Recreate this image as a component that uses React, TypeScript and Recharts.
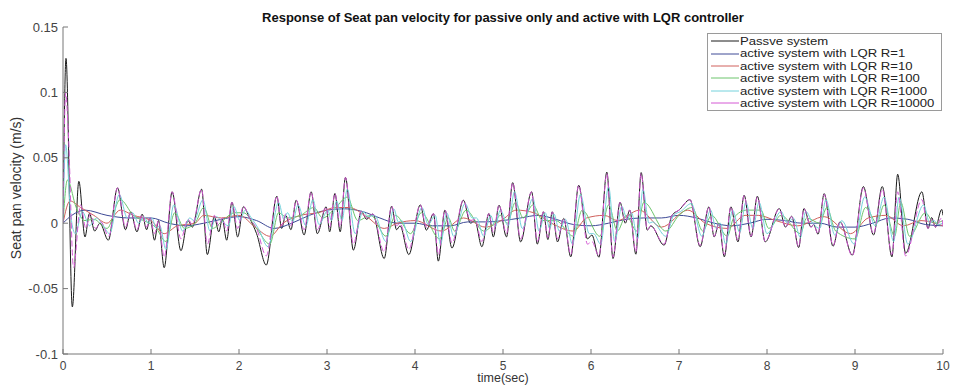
import React from 'react';
import { LineChart, Line, XAxis, YAxis } from 'recharts';

// [time (s), seat pan velocity (m/s)]
const passive: number[][] = [
  [0, 0], [0.034, 0.126], [0.106, -0.064], [0.18, 0.032], [0.25, -0.0105], [0.3, 0.0074], [0.36, -0.006], [0.42, 0],
  [0.515, -0.013], [0.62, 0.027], [0.71, -0.005], [0.77, 0.0087], [0.84, -0.0066], [0.9, 0.0069], [0.95, -0.005],
  [0.99, 0.004], [1.04, -0.013], [1.085, 0.002], [1.15, -0.034], [1.24, 0.024], [1.34, -0.021], [1.42, 0.002],
  [1.47, -0.003], [1.575, 0.026], [1.64, -0.024], [1.72, 0.005], [1.77, -0.0066], [1.81, 0.003], [1.86, -0.013],
  [1.92, 0.016], [1.985, -0.0105], [2.05, 0.0125], [2.12, 0.004], [2.2, -0.008], [2.31, -0.032], [2.43, 0.0206],
  [2.485, -0.004], [2.53, 0.006], [2.59, -0.005], [2.65, 0.0176], [2.74, -0.009], [2.82, 0.024], [2.89, -0.008],
  [2.99, 0.0125], [3.03, -0.0066], [3.09, 0.0227], [3.15, -0.0066], [3.21, 0.035], [3.3, -0.0206], [3.39, 0.009],
  [3.45, 0.003], [3.52, 0.007], [3.65, -0.027], [3.735, 0.013], [3.79, -0.005], [3.83, -0.002], [3.93, -0.024],
  [4.06, 0.014], [4.13, -0.0053], [4.21, 0.0074], [4.265, -0.029], [4.34, 0.01], [4.42, -0.019], [4.55, 0.0176],
  [4.63, 0], [4.68, 0.002], [4.76, -0.018], [4.84, 0.0074], [4.89, -0.0105], [4.955, 0.0137], [5.04, -0.0105],
  [5.11, 0.031], [5.2, -0.0143], [5.325, 0.024], [5.39, -0.016], [5.46, 0.0087], [5.51, -0.0125], [5.56, 0.0087],
  [5.62, -0.0143], [5.69, 0.0036], [5.77, -0.0257], [5.86, 0.029], [5.96, -0.012], [6.01, -0.009], [6.09, -0.026],
  [6.18, 0.039], [6.25, -0.027], [6.33, 0.016], [6.39, 0], [6.44, 0.01], [6.51, -0.0237], [6.57, 0.0387],
  [6.64, -0.0053], [6.68, -0.002], [6.83, -0.0168], [6.92, 0.006], [7.0, 0.01], [7.125, 0.018], [7.24, -0.018],
  [7.34, 0.0125], [7.4, -0.0105], [7.455, 0], [7.515, -0.0257], [7.59, 0.0125], [7.67, -0.0143], [7.74, 0.0214],
  [7.82, -0.0105], [7.89, 0.0206], [7.98, -0.0143], [8.14, 0.0112], [8.21, -0.003], [8.28, 0.0053], [8.36, -0.0186],
  [8.42, 0.0112], [8.5, -0.003], [8.53, -0.001], [8.58, -0.0084], [8.65, 0.0226], [8.75, -0.0176], [8.83, 0.001],
  [8.97, -0.0244], [9.095, 0.028], [9.21, -0.009], [9.31, 0.028], [9.42, -0.0257], [9.485, 0.0374], [9.575, -0.023],
  [9.76, 0.024], [9.83, -0.004], [9.87, 0.0043], [9.915, -0.003], [9.985, 0.0105], [10, 0.006],
];

const lqrR1: number[][] = [
  [0, 0], [0.1, 0.006], [0.25, 0.01], [0.5, 0.006], [0.75, 0.004], [1.0, 0.004], [1.2, 0], [1.4, -0.002], [1.6, 0],
  [1.8, 0.003], [2.0, 0.005], [2.2, 0.002], [2.4, -0.004], [2.6, 0], [2.8, 0.006], [3.0, 0.01], [3.2, 0.011],
  [3.4, 0.009], [3.6, 0.004], [3.8, 0], [4.0, 0], [4.2, -0.002], [4.4, -0.002], [4.6, 0.001], [4.8, 0.001],
  [5.0, 0.002], [5.2, 0.004], [5.4, 0.006], [5.6, 0.003], [5.8, -0.001], [6.0, -0.002], [6.2, 0], [6.4, 0.003],
  [6.6, 0.004], [6.8, 0.004], [7.0, 0.006], [7.2, 0.004], [7.4, 0], [7.6, -0.002], [7.8, 0], [8.0, 0.003],
  [8.2, 0.002], [8.4, 0], [8.6, 0], [8.8, -0.003], [9.0, -0.003], [9.2, 0], [9.4, 0.004], [9.6, 0.003],
  [9.8, -0.001], [10, -0.002],
];

const lqrR10: number[][] = [
  [0, 0], [0.08, 0.017], [0.2, 0.012], [0.35, 0.006], [0.5, 0], [0.65, 0.01], [0.8, 0.006], [1.0, 0.002],
  [1.15, -0.008], [1.3, -0.002], [1.5, 0], [1.6, 0.006], [1.8, 0.004], [2.0, 0.006], [2.2, -0.004], [2.35, -0.01],
  [2.5, 0], [2.7, 0.006], [2.9, 0.008], [3.1, 0.012], [3.25, 0.012], [3.45, 0.005], [3.65, -0.004], [3.8, 0],
  [4.0, 0.002], [4.3, -0.006], [4.55, 0.004], [4.8, -0.003], [5.0, 0.003], [5.15, 0.01], [5.35, 0.008], [5.55, 0],
  [5.8, -0.006], [5.95, 0.004], [6.15, 0.006], [6.3, 0.002], [6.55, 0.01], [6.8, -0.003], [7.1, 0.01], [7.3, 0],
  [7.55, -0.004], [7.75, 0.006], [7.9, 0.006], [8.1, 0.002], [8.35, -0.002], [8.65, 0.005], [8.95, -0.008],
  [9.15, 0.004], [9.35, 0.006], [9.55, -0.002], [9.75, 0.002], [10, -0.002],
];

const lqrR100: number[][] = [
  [0, 0], [0.05, 0.033], [0.15, 0.012], [0.25, 0.002], [0.35, 0.003], [0.5, -0.004], [0.65, 0.018], [0.8, 0.006],
  [0.95, 0.001], [1.05, -0.003], [1.17, -0.014], [1.27, 0.008], [1.38, -0.004], [1.5, 0], [1.6, 0.012],
  [1.7, -0.004], [1.8, 0.001], [1.95, 0.008], [2.05, 0.008], [2.2, -0.004], [2.35, -0.016], [2.45, 0.008],
  [2.55, 0.004], [2.7, 0.006], [2.85, 0.012], [2.95, 0.004], [3.1, 0.012], [3.23, 0.02], [3.35, 0.002],
  [3.5, 0.006], [3.67, -0.01], [3.78, 0.006], [3.95, -0.008], [4.07, 0.008], [4.28, -0.012], [4.38, 0.004],
  [4.45, -0.006], [4.58, 0.01], [4.78, -0.006], [4.9, 0], [4.97, 0.006], [5.05, 0], [5.14, 0.016], [5.23, 0.004],
  [5.34, 0.014], [5.45, 0.002], [5.6, 0.002], [5.8, -0.01], [5.9, 0.01], [6.1, -0.01], [6.2, 0.014], [6.3, -0.006],
  [6.4, 0.006], [6.52, -0.006], [6.6, 0.016], [6.85, -0.006], [7.0, 0.006], [7.15, 0.012], [7.27, -0.006],
  [7.37, 0.006], [7.55, -0.01], [7.62, 0.004], [7.77, 0.01], [7.93, 0.01], [8.02, -0.004], [8.16, 0.006],
  [8.38, -0.008], [8.45, 0.004], [8.6, 0], [8.68, 0.012], [8.78, -0.006], [9.0, -0.012], [9.12, 0.012], [9.25, 0],
  [9.33, 0.014], [9.45, -0.01], [9.52, 0.016], [9.62, -0.01], [9.8, 0.008], [9.9, 0], [10, 0.002],
];

const lqrR1000: number[][] = [
  [0, 0], [0.03, 0.06], [0.09, 0.005], [0.14, -0.008], [0.22, 0.009], [0.3, -0.002], [0.38, 0.004], [0.44, 0],
  [0.53, -0.008], [0.64, 0.022], [0.73, 0.004], [0.79, 0.008], [0.86, 0], [0.92, 0.005], [0.97, 0], [1.01, 0.004],
  [1.06, -0.004], [1.1, -0.002], [1.17, -0.02], [1.26, 0.014], [1.36, -0.006], [1.44, 0.004], [1.49, 0.002],
  [1.59, 0.018], [1.67, -0.006], [1.74, 0.005], [1.8, 0.002], [1.88, -0.002], [1.94, 0.013], [2.01, 0.002],
  [2.07, 0.01], [2.14, 0.004], [2.22, -0.004], [2.33, -0.018], [2.45, 0.016], [2.51, 0.003], [2.55, 0.008],
  [2.61, 0.001], [2.67, 0.014], [2.76, -0.002], [2.84, 0.018], [2.91, -0.001], [3.01, 0.01], [3.05, 0.002],
  [3.11, 0.017], [3.17, 0.002], [3.23, 0.026], [3.32, -0.008], [3.41, 0.009], [3.47, 0.005], [3.54, 0.006],
  [3.67, -0.014], [3.76, 0.011], [3.81, 0.001], [3.85, 0.002], [3.95, -0.014], [4.08, 0.012], [4.15, -0.001],
  [4.23, 0.006], [4.29, -0.016], [4.36, 0.008], [4.44, -0.01], [4.57, 0.015], [4.65, 0.004], [4.7, 0.004],
  [4.78, -0.01], [4.86, 0.006], [4.91, -0.003], [4.97, 0.01], [5.06, -0.002], [5.13, 0.024], [5.22, -0.004],
  [5.34, 0.019], [5.41, -0.006], [5.48, 0.008], [5.53, -0.004], [5.58, 0.007], [5.64, -0.006], [5.71, 0.003],
  [5.79, -0.016], [5.88, 0.022], [5.98, -0.008], [6.03, -0.008], [6.11, -0.016], [6.2, 0.028], [6.27, -0.014],
  [6.35, 0.013], [6.41, 0.003], [6.46, 0.008], [6.53, -0.012], [6.59, 0.026], [6.66, 0], [6.7, 0.001],
  [6.85, -0.01], [6.94, 0.006], [7.02, 0.009], [7.14, 0.015], [7.26, -0.01], [7.36, 0.01], [7.42, -0.004],
  [7.47, 0], [7.53, -0.016], [7.61, 0.01], [7.69, -0.007], [7.76, 0.016], [7.84, -0.004], [7.91, 0.016],
  [8.0, -0.008], [8.16, 0.009], [8.23, 0], [8.3, 0.004], [8.38, -0.011], [8.44, 0.009], [8.52, 0], [8.6, -0.004],
  [8.67, 0.018], [8.77, -0.009], [8.85, 0.002], [8.99, -0.016], [9.11, 0.02], [9.23, -0.002], [9.33, 0.02],
  [9.44, -0.014], [9.5, 0.02], [9.6, -0.016], [9.78, 0.014], [9.85, 0], [9.9, 0.002], [9.94, -0.001], [10, 0],
];

const lqrR10000: number[][] = [
  [0, 0], [0.03, 0.1], [0.06, 0.07], [0.12, -0.034], [0.2, 0.014], [0.26, -0.004], [0.31, 0.007], [0.37, -0.004],
  [0.43, 0.001], [0.52, -0.01], [0.62, 0.027], [0.71, -0.003], [0.77, 0.0087], [0.84, -0.005], [0.9, 0.0065],
  [0.95, -0.003], [0.99, 0.004], [1.04, -0.008], [1.085, 0.002], [1.15, -0.026], [1.24, 0.024], [1.34, -0.012],
  [1.42, 0.003], [1.47, -0.001], [1.575, 0.026], [1.64, -0.016], [1.72, 0.006], [1.77, -0.002], [1.81, 0.004],
  [1.86, -0.006], [1.92, 0.016], [1.985, -0.004], [2.05, 0.013], [2.12, 0.004], [2.2, -0.004], [2.31, -0.025],
  [2.43, 0.0206], [2.485, -0.002], [2.53, 0.007], [2.59, -0.002], [2.65, 0.0176], [2.74, -0.005], [2.82, 0.024],
  [2.89, -0.005], [2.99, 0.0125], [3.03, -0.003], [3.09, 0.0227], [3.15, -0.003], [3.21, 0.035], [3.3, -0.016],
  [3.39, 0.009], [3.45, 0.004], [3.52, 0.007], [3.65, -0.022], [3.735, 0.013], [3.79, -0.002], [3.83, 0],
  [3.93, -0.02], [4.06, 0.014], [4.13, -0.003], [4.21, 0.0074], [4.265, -0.024], [4.34, 0.01], [4.42, -0.015],
  [4.55, 0.0176], [4.63, 0.002], [4.68, 0.003], [4.76, -0.014], [4.84, 0.0074], [4.89, -0.007], [4.955, 0.0137],
  [5.04, -0.008], [5.11, 0.031], [5.2, -0.012], [5.325, 0.024], [5.39, -0.014], [5.46, 0.0087], [5.51, -0.011],
  [5.56, 0.0087], [5.62, -0.012], [5.69, 0.0036], [5.77, -0.024], [5.86, 0.029], [5.96, -0.016], [6.01, -0.014],
  [6.09, -0.025], [6.18, 0.038], [6.25, -0.026], [6.33, 0.016], [6.39, 0.001], [6.44, 0.01], [6.51, -0.022],
  [6.57, 0.038], [6.64, -0.005], [6.68, -0.002], [6.83, -0.016], [6.92, 0.006], [7.0, 0.01], [7.125, 0.018],
  [7.24, -0.017], [7.34, 0.0125], [7.4, -0.01], [7.455, 0], [7.515, -0.024], [7.59, 0.0125], [7.67, -0.013],
  [7.74, 0.021], [7.82, -0.01], [7.89, 0.02], [7.98, -0.014], [8.14, 0.011], [8.21, -0.003], [8.28, 0.005],
  [8.36, -0.018], [8.42, 0.011], [8.5, -0.003], [8.53, -0.001], [8.58, -0.008], [8.65, 0.022], [8.75, -0.017],
  [8.83, 0.001], [8.97, -0.025], [9.095, 0.027], [9.21, -0.008], [9.31, 0.026], [9.42, -0.024], [9.485, 0.024],
  [9.575, -0.025], [9.76, 0.018], [9.83, -0.004], [9.87, 0.003], [9.915, -0.003], [9.985, 0.004], [10, -0.003],
];

const xTicks = [0, 1, 2, 3, 4, 5, 6, 7, 8, 9, 10];
const yTicks = [-0.1, -0.05, 0, 0.05, 0.1, 0.15];

const toPoints = (rows: number[][]) => rows.map(([t, v]) => ({ t, v }));

const series = [
  { name: 'Passve system', rows: passive, color: '#1a1a1a', dash: undefined },
  { name: 'active system with LQR R=1', rows: lqrR1, color: '#3e4a96', dash: undefined },
  { name: 'active system with LQR R=10', rows: lqrR10, color: '#d0605c', dash: undefined },
  { name: 'active system with LQR R=100', rows: lqrR100, color: '#6cc46c', dash: undefined },
  { name: 'active system with LQR R=1000', rows: lqrR1000, color: '#74d2dc', dash: undefined },
  { name: 'active system with LQR R=10000', rows: lqrR10000, color: '#d458d4', dash: '6 3' },
];

const font = 'Arial, "Liberation Sans", Helvetica, sans-serif';

// the reference text is slightly stretched sideways, so the legend text is widened a little
const LegendBox = () => (
  <div
    style={{
      position: 'absolute', left: 707, top: 33, width: 231,
      border: '1px solid #9a9a9a', background: '#fff',
      padding: '1px 0 1px 2px',
      fontFamily: font, fontSize: 10.5, color: '#222', lineHeight: '12.4px', whiteSpace: 'nowrap',
    }}
  >
    {series.map((s) => (
      <div key={s.name} style={{ display: 'flex', alignItems: 'center', height: 12.4 }}>
        <svg width={30} height={12} style={{ flex: 'none' }}>
          <line x1={1} y1={6} x2={29} y2={6} stroke={s.color} strokeWidth={1} />
        </svg>
        <span style={{ display: 'inline-block', transform: 'scaleX(1.25)', transformOrigin: 'left center' }}>
          {s.name}
        </span>
      </div>
    ))}
  </div>
);

export default function App() {
  return (
    <div style={{ position: 'absolute', left: 0, top: 0, width: 956, height: 385, background: '#fff' }}>
      <LineChart
        width={956}
        height={385}
        margin={{ top: 27, right: 13, bottom: 0, left: 0 }}
        style={{ fontFamily: font }}
      >
        <XAxis
          type="number"
          dataKey="t"
          domain={[0, 10]}
          ticks={xTicks}
          height={31}
          tickSize={-5}
          tickMargin={12}
          stroke="#777"
          tick={{ fill: '#444', fontSize: 12 }}
          allowDataOverflow
          label={{ value: 'time(sec)', position: 'insideBottom', offset: 3, fill: '#333', fontSize: 12.5 }}
        />
        <YAxis
          type="number"
          domain={[-0.1, 0.15]}
          ticks={yTicks}
          width={63}
          tickSize={-5}
          tickMargin={10}
          stroke="#777"
          tick={{ fill: '#444', fontSize: 13 }}
          tickFormatter={(v: number) => String(v)}
          allowDataOverflow
        />
        {series.map((s) => (
          <Line
            key={s.name}
            data={toPoints(s.rows)}
            dataKey="v"
            name={s.name}
            type="monotone"
            stroke={s.color}
            strokeWidth={1}
            strokeDasharray={s.dash}
            dot={false}
            activeDot={false}
            isAnimationActive={false}
          />
        ))}
      </LineChart>
      <div
        style={{
          position: 'absolute', left: 63, width: 880, top: 10, textAlign: 'center',
          fontFamily: font, fontSize: 13, fontWeight: 'bold', color: '#111', whiteSpace: 'nowrap',
        }}
      >
        Response of Seat pan velocity for passive only and active with LQR controller
      </div>
      <div
        style={{
          position: 'absolute', left: 16, top: 188, transform: 'translate(-50%, -50%) rotate(-90deg)',
          whiteSpace: 'nowrap', fontFamily: font, fontSize: 14, color: '#333',
        }}
      >
        Seat pan velocity (m/s)
      </div>
      <LegendBox />
    </div>
  );
}
